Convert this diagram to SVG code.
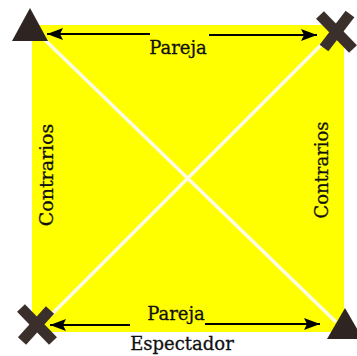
<svg xmlns="http://www.w3.org/2000/svg" width="357" height="356" viewBox="0 0 357 356">
<style>
.lbl{font-family:"DejaVu Serif","Liberation Serif",serif;font-size:18px;fill:#111;stroke:#111;stroke-width:0.3}
.diag{stroke:#fffbe4;stroke-width:3.5;fill:none}
.arr{stroke:#000;stroke-width:2;fill:none}
.tri{fill:#2e2522}
.cross{stroke:#3a2f2b;stroke-width:11;stroke-linecap:butt;fill:none}
</style>
<defs>
<marker id="ah" viewBox="0 0 16 12" refX="16" refY="6" markerWidth="16" markerHeight="12" markerUnits="userSpaceOnUse" orient="auto-start-reverse">
<path d="M0,0 L16,6 L0,12 L3,6 Z" fill="#000"/>
</marker>
</defs>
<rect id="field" x="32" y="25" width="312" height="307" fill="#ffff00"/>
<g id="connectors">
<line class="diag" x1="45" y1="40" x2="336" y2="322"/>
<line class="diag" x1="322" y1="44" x2="50" y2="316"/>
<line class="arr" x1="47" y1="34" x2="150" y2="34" marker-start="url(#ah)"/>
<line class="arr" x1="209" y1="35" x2="317" y2="35" marker-end="url(#ah)"/>
<line class="arr" x1="50" y1="325" x2="130" y2="325" marker-start="url(#ah)"/>
<line class="arr" x1="205" y1="324" x2="320" y2="324" marker-end="url(#ah)"/>
</g>
<g id="player-top-left"><polygon class="tri" points="30,8 48,41 12,41"/></g>
<g id="player-top-right"><line class="cross" x1="320" y1="15" x2="353" y2="49"/><line class="cross" x1="350" y1="14" x2="324" y2="48"/></g>
<g id="player-bottom-left"><line class="cross" x1="21" y1="308" x2="53" y2="341"/><line class="cross" x1="50" y1="310" x2="22" y2="341"/></g>
<g id="player-bottom-right"><polygon class="tri" points="345,308 363,339 327,339"/></g>
<g id="label-pareja-top"><text class="lbl" x="178" y="54" text-anchor="middle">Pareja</text></g>
<g id="label-pareja-bottom"><text class="lbl" x="176" y="320" text-anchor="middle">Pareja</text></g>
<g id="label-espectador"><text class="lbl" x="182" y="350" text-anchor="middle">Espectador</text></g>
<g id="label-contrarios-left"><text class="lbl" transform="translate(53,175) rotate(-90)" text-anchor="middle" style="font-size:19px">Contrarios</text></g>
<g id="label-contrarios-right"><text class="lbl" transform="translate(328,170) rotate(-90)" text-anchor="middle">Contrarios</text></g>
</svg>
